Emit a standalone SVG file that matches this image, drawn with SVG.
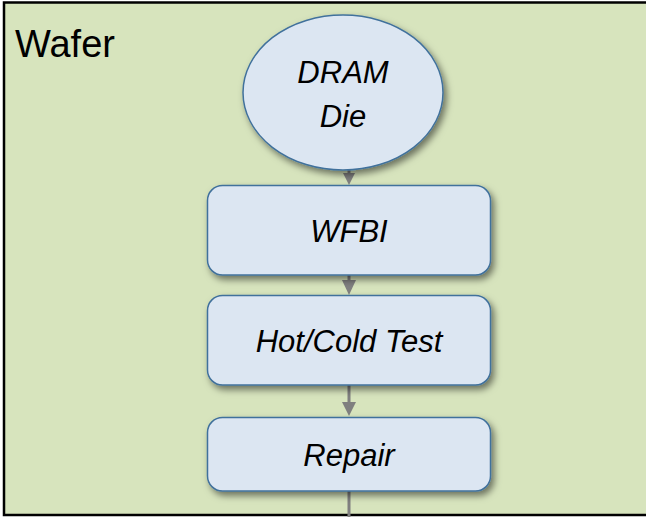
<svg xmlns="http://www.w3.org/2000/svg" width="646" height="517" viewBox="0 0 646 517">
<defs>
<style>
.node{fill:#dce6f2;stroke:#41719c;stroke-width:1.5;filter:url(#sh)}
.lbl{font-family:"Liberation Sans",Arial,sans-serif;font-style:italic;font-size:31px;fill:#000;text-anchor:middle}
.conn{stroke:#7f7f7f;stroke-width:3;fill:none}
.head{fill:#7f7f7f}
</style>
<filter id="sh" x="-20%" y="-20%" width="150%" height="150%">
<feDropShadow dx="3" dy="4" stdDeviation="3.5" flood-color="#000" flood-opacity="0.5"/>
</filter>
</defs>
<g id="wafer">
<rect x="4" y="2.5" width="700" height="512.5" fill="#d7e4bd" stroke="#000" stroke-width="2.5"/>
<text x="15" y="57" font-family="Liberation Sans,Arial,sans-serif" font-size="38px" fill="#000">Wafer</text>
</g>
<g id="connectors">
<line class="conn" x1="349" y1="168" x2="349" y2="176"/>
<polygon class="head" points="343,173 355,173 349,185"/>
<line class="conn" x1="349" y1="275" x2="349" y2="282"/>
<polygon class="head" points="342,280 356,280 349,295"/>
<line class="conn" x1="349" y1="385" x2="349" y2="404"/>
<polygon class="head" points="342,402 356,402 349,416"/>
<line class="conn" x1="349" y1="491" x2="349" y2="517"/>
</g>
<g id="dram-die">
<ellipse class="node" cx="343" cy="92.5" rx="100" ry="77.5" stroke-width="2.5"/>
<text class="lbl" x="343" y="83" font-size="32px">DRAM</text>
<text class="lbl" x="343" y="127" font-size="32px">Die</text>
</g>
<g id="wfbi">
<rect class="node" x="207.5" y="185.5" width="283" height="89.5" rx="15"/>
<text class="lbl" x="349" y="242">WFBI</text>
</g>
<g id="hotcold">
<rect class="node" x="207.5" y="295.5" width="283" height="89.5" rx="15"/>
<text class="lbl" x="349" y="352" font-size="33.5px">Hot/Cold Test</text>
</g>
<g id="repair">
<rect class="node" x="207.5" y="417.5" width="283" height="73.5" rx="15"/>
<text class="lbl" x="349" y="466" font-size="32.5px">Repair</text>
</g>
</svg>
